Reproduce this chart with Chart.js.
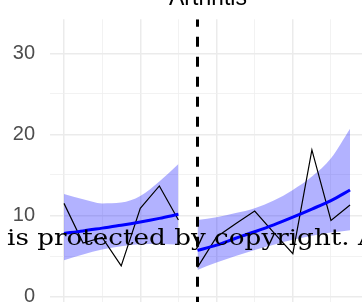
<!DOCTYPE html>
<html>
<head>
<meta charset="utf-8">
<script src="https://cdn.jsdelivr.net/npm/chart.js@4"></script>
<style>
  html, body { margin: 0; padding: 0; background: #fff; overflow: hidden; }
  body { width: 362px; height: 302px; position: relative; }
  #wrap { position: absolute; left: 0; top: -20px; width: 366px; height: 360px; }
  #note {
    position: absolute; left: 7px; top: 226px; white-space: nowrap;
    font-family: "DejaVu Serif", serif; font-size: 23px; line-height: 23px;
    color: #000; transform: scaleX(1.14); transform-origin: 0 0;
  }
</style>
</head>
<body>
<div id="wrap"><canvas id="arthritis-chart"></canvas></div>
<div id="note">is protected by copyright. All rights reserved.</div>
<script>
const chartTitle = 'Arthritis';

// time index, before / after the break
const leftX = [0, 1, 2, 3, 4, 5, 6];
const rightX = [7, 8, 9, 10, 11, 12, 13, 14, 15];
const breakX = 7;

// observed values
const leftObs = [11.5, 6.6, 7.3, 3.8, 10.9, 13.65, 9.45];
const rightObs = [3.6, 7.35, 9.0, 10.55, 7.9, 5.3, 18.1, 9.4, 11.3];

// fitted trend and its band
const leftFit = [7.8, 8.1, 8.45, 8.8, 9.2, 9.65, 10.15];
const leftUpper = [12.65, 12.0, 11.5, 11.6, 12.4, 14.2, 16.35];
const leftLower = [4.5, 5.2, 5.8, 6.2, 6.45, 6.5, 6.4];
const rightFit = [5.7, 6.35, 7.2, 8.0, 8.85, 9.8, 10.8, 11.85, 13.15];
const rightUpper = [9.45, 9.8, 10.3, 10.9, 11.85, 13.15, 14.8, 17.05, 20.7];
const rightLower = [3.3, 4.2, 5.0, 5.75, 6.4, 7.0, 7.5, 7.9, 8.2];

const yTicks = [0, 5, 10, 15, 20, 25, 30];
const xGrid = [0, 2, 4, 6, 8, 10, 12, 14];
const yMin = -1.5, yMax = 34.2;

const pts = (xs, ys) => xs.map((x, i) => ({ x: x, y: ys[i] }));

const bandColor = 'rgba(0, 0, 255, 0.3)';

function band(xs, ys, fill) {
    return {
        data: pts(xs, ys),
        borderWidth: 0,
        pointRadius: 0,
        backgroundColor: bandColor,
        fill: fill,
        cubicInterpolationMode: 'monotone',
        order: 5
    };
}

function obs(xs, ys) {
    return {
        data: pts(xs, ys),
        borderColor: '#000',
        borderWidth: 1.2,
        pointRadius: 0,
        fill: false,
        order: 3
    };
}

function fit(xs, ys) {
    return {
        data: pts(xs, ys),
        borderColor: '#0000ff',
        borderWidth: 3,
        pointRadius: 0,
        fill: false,
        cubicInterpolationMode: 'monotone',
        order: 2
    };
}

const titlePlugin = {
    id: 'topTitle',
    afterDraw(chart) {
        const ctx = chart.ctx;
        const a = chart.chartArea;
        ctx.save();
        ctx.font = '23px "Liberation Sans", Arial, sans-serif';
        ctx.fillStyle = '#000';
        ctx.textAlign = 'center';
        ctx.textBaseline = 'alphabetic';
        ctx.fillText(chartTitle, (a.left + a.right) / 2, 25);
        ctx.restore();
    }
};

const chartCanvas = document.getElementById('arthritis-chart');

let arthritisChart = new Chart(chartCanvas, {
    type: 'line',
    data: {
        datasets: [
            band(leftX, leftUpper, '+1'),
            band(leftX, leftLower, false),
            band(rightX, rightUpper, '+1'),
            band(rightX, rightLower, false),
            obs(leftX, leftObs),
            obs(rightX, rightObs),
            fit(leftX, leftFit),
            fit(rightX, rightFit),
            {
                data: [{ x: breakX, y: yMin }, { x: breakX, y: yMax }],
                borderColor: '#000',
                borderWidth: 3,
                borderDash: [10, 10],
                borderDashOffset: -2,
                pointRadius: 0,
                fill: false,
                order: 1
            }
        ]
    },
    options: {
        responsive: true,
        maintainAspectRatio: false,
        animation: false,
        layout: { padding: { top: 39.3, bottom: 31.2, left: 0, right: 0 } },
        plugins: {
            legend: { display: false },
            tooltip: { enabled: false },
            title: { display: false }
        },
        scales: {
            x: {
                type: 'linear',
                min: -0.734,
                max: 15.837,
                afterBuildTicks: (s) => { s.ticks = xGrid.map(v => ({ value: v })); },
                afterFit: (s) => { s.height = 0; },
                ticks: { display: false },
                border: { display: false },
                grid: {
                    drawTicks: false,
                    color: (c) => (c.tick && c.tick.value % 4 === 0) ? '#ebebeb' : '#efefef',
                    lineWidth: (c) => (c.tick && c.tick.value % 4 === 0) ? 1.5 : 0.8
                }
            },
            y: {
                min: yMin,
                max: yMax,
                afterBuildTicks: (s) => { s.ticks = yTicks.map(v => ({ value: v })); },
                afterFit: (s) => { s.width = 50; },
                border: { display: false },
                ticks: {
                    padding: 15,
                    color: '#4d4d4d',
                    font: { family: '"Liberation Sans", Arial, sans-serif', size: 20 },
                    callback: (v) => (v % 10 === 0 ? String(v) : '')
                },
                grid: {
                    drawTicks: false,
                    color: (c) => (c.tick && c.tick.value % 10 === 0) ? '#ebebeb' : '#efefef',
                    lineWidth: (c) => (c.tick && c.tick.value % 10 === 0) ? 1.5 : 0.8
                }
            }
        }
    },
    plugins: [titlePlugin]
});
</script>
</body>
</html>
